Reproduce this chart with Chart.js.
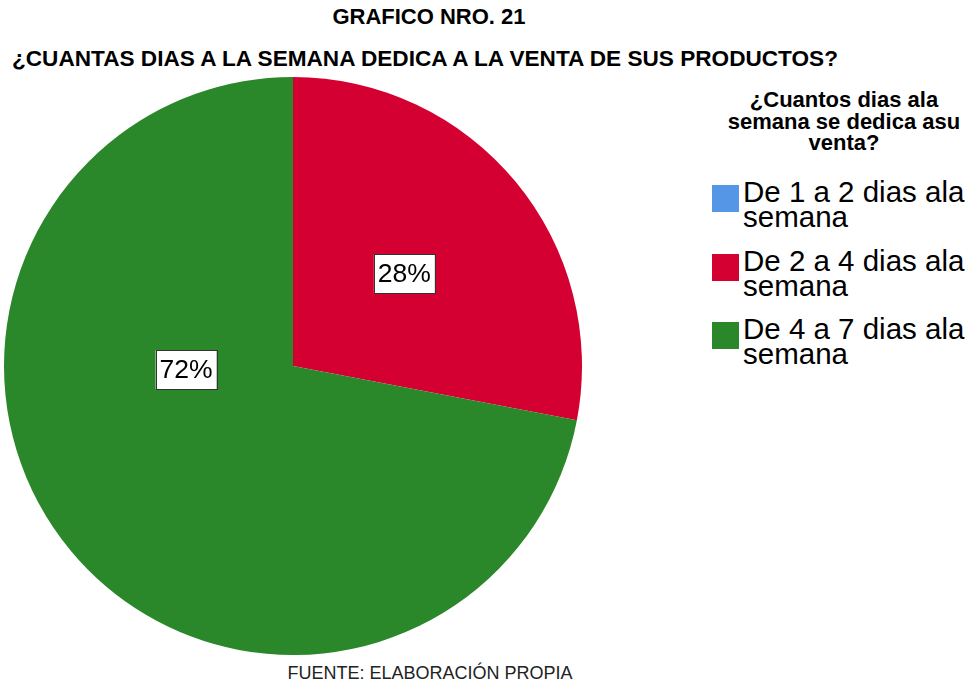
<!DOCTYPE html>
<html><head><meta charset="utf-8">
<script src="https://cdn.jsdelivr.net/npm/chart.js@4"></script>
<style>
body{margin:0;width:978px;height:685px;background:#fff;font-family:"Liberation Sans",Arial,sans-serif;position:relative;overflow:hidden;color:#000}
.t1{position:absolute;left:0;width:858px;top:4px;line-height:26px;text-align:center;font-weight:bold;font-size:22px}
.t2{position:absolute;left:12px;top:46px;line-height:26px;font-weight:bold;font-size:22.6px;white-space:nowrap}
.foot{position:absolute;left:0;width:860px;top:663px;line-height:20px;text-align:center;font-size:18px;color:#222}
#wrap{position:absolute;left:4px;top:77px;width:578px;height:578px}
.lt{position:absolute;left:705px;width:278px;top:89px;text-align:center;font-weight:bold;font-size:22px;line-height:21.5px}
.li{position:absolute;left:712px;font-size:29.5px;line-height:25px}
.li span.sw{position:absolute;left:0;top:6px;width:27px;height:27px}
.li div{margin-left:31px;white-space:nowrap}
</style></head><body>
<div class="t1">GRAFICO NRO. 21</div>
<div class="t2">¿CUANTAS DIAS A LA SEMANA DEDICA A LA VENTA DE SUS PRODUCTOS?</div>
<div id="wrap"><canvas id="c" width="578" height="578"></canvas></div>
<div class="lt" id="lt"></div>
<div id="leg"></div>
<div class="foot">FUENTE: ELABORACIÓN PROPIA</div>
<script>
const legendTitle = "¿Cuantos dias ala semana se dedica asu venta?";
const categories = ["De 1 a 2 dias ala semana","De 2 a 4 dias ala semana","De 4 a 7 dias ala semana"];
const legendLines = [["De 1 a 2 dias ala","semana"],["De 2 a 4 dias ala","semana"],["De 4 a 7 dias ala","semana"]];
const values = [0, 28, 72];
const colors = ["#5596e6","#d50032","#2a882a"];
// label placement: [angle from top (deg, clockwise), fraction of radius]
const labelPos = [null, [50.4, 0.5], [268, 0.37]];

document.getElementById('lt').innerHTML = "¿Cuantos dias ala<br>semana se dedica asu<br>venta?";
const leg = document.getElementById('leg');
legendLines.forEach((ls,i)=>{
  const d=document.createElement('div');d.className='li';d.style.top=(179+i*68.5)+'px';
  d.innerHTML='<span class="sw" style="background:'+colors[i]+'"></span><div>'+ls.join('<br>')+'</div>';
  leg.appendChild(d);
});

const labelPlugin = {
  id:'boxLabels',
  afterDatasetsDraw(chart){
    const ctx=chart.ctx; const meta=chart.getDatasetMeta(0);
    meta.data.forEach((arc,i)=>{
      if(!values[i]) return;
      const p=arc.getProps(['x','y','outerRadius'],true);
      const lp=labelPos[i]; const a=lp[0]*Math.PI/180;
      const cx=p.x+Math.sin(a)*p.outerRadius*lp[1];
      const cy=p.y-Math.cos(a)*p.outerRadius*lp[1];
      const txt=values[i]+'%';
      ctx.save();
      ctx.font='26.5px "Liberation Sans", Arial, sans-serif';
      const w=61,h=39;
      ctx.fillStyle='#fff';ctx.fillRect(cx-w/2,cy-h/2,w,h);
      ctx.strokeStyle='#333';ctx.lineWidth=1;ctx.strokeRect(Math.round(cx-w/2)+0.5,Math.round(cy-h/2)+0.5,w,h);
      ctx.fillStyle='#000';ctx.textAlign='center';ctx.textBaseline='middle';
      ctx.fillText(txt,cx,cy+1);
      ctx.restore();
    });
  }
};

new Chart(document.getElementById('c'),{
  type:'pie',
  data:{labels:categories,datasets:[{data:values,backgroundColor:colors,borderWidth:0,hoverOffset:0}]},
  options:{responsive:false,animation:false,events:[],
    layout:{padding:0},
    plugins:{legend:{display:false},tooltip:{enabled:false},title:{display:false}}},
  plugins:[labelPlugin]
});
</script>
</body></html>
